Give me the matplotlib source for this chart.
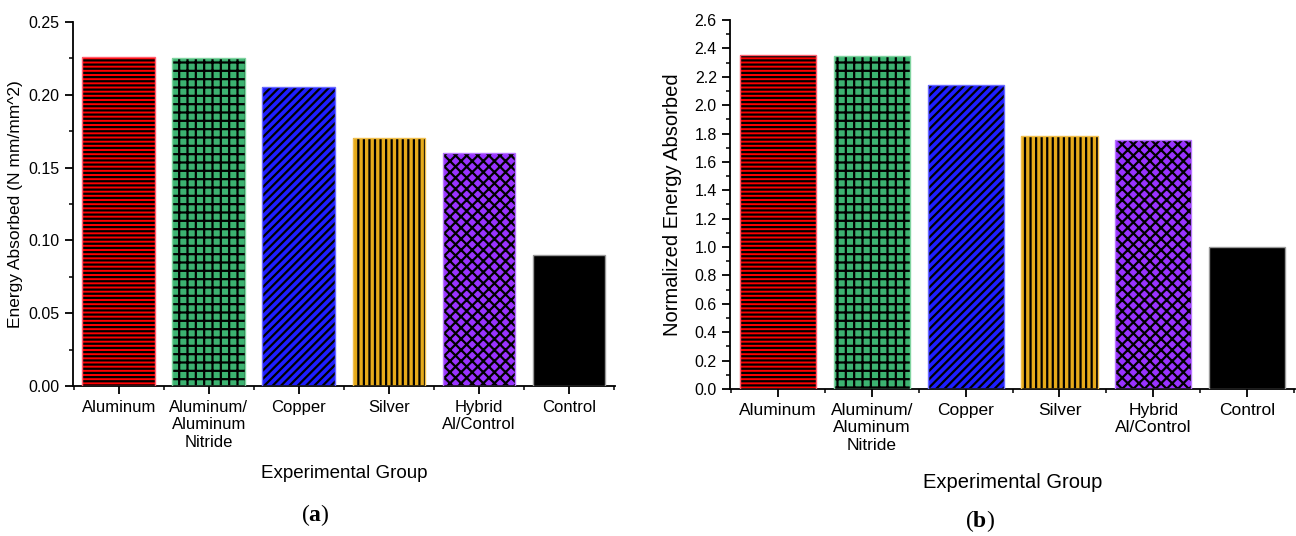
import numpy as np
import matplotlib
matplotlib.use('Agg')
import matplotlib.pyplot as plt
from matplotlib.ticker import MultipleLocator, FixedLocator

plt.rcParams['font.family'] = ['Liberation Sans', 'DejaVu Sans']
plt.rcParams['hatch.linewidth'] = 1.6
plt.rcParams['mathtext.fontset'] = 'custom'
plt.rcParams['mathtext.bf'] = 'Liberation Serif:bold'
plt.rcParams['mathtext.rm'] = 'Liberation Serif'

# groups and measured values
groups = ['Aluminum', 'Aluminum/\nAluminum\nNitride', 'Copper', 'Silver',
          'Hybrid\nAl/Control', 'Control']
energy = [0.226, 0.225, 0.205, 0.170, 0.160, 0.090]
normalized = [2.35, 2.345, 2.14, 1.785, 1.755, 1.0]

face_colors = ['#FF0000', '#3CB371', '#1E1EFF', '#E6AA1A', '#9933FF', '#000000']
edge_colors = ['#FF6070', '#7FD39F', '#6A6AFF', '#F0C050', '#B877FF', '#999999']
hatches = ['----', '++', '////', '|||', 'xxx', '']

fig = plt.figure(figsize=(12.96, 5.36), dpi=100)
ax_a = fig.add_axes([0.0563, 0.280, 0.4182, 0.679])
ax_b = fig.add_axes([0.5633, 0.2743, 0.4360, 0.6884])


def draw_panel(ax, values, ymax, ymajor, yminor, ylabel, ylabel_size,
               tick_size, cat_size, xlabel_size, xpad, ypad, fmt):
    x = np.arange(len(groups))
    # filled bars with black hatching, then a light outline on top
    ax.bar(x, values, width=0.81, color=face_colors, edgecolor='black',
           hatch=hatches, linewidth=0, zorder=2)
    ax.bar(x, values, width=0.81, fill=False, edgecolor=edge_colors,
           linewidth=1.0, zorder=3)
    ax.set_xlim(-0.51, len(groups) - 0.49)
    ax.set_ylim(0, ymax)
    ax.spines['top'].set_visible(False)
    ax.spines['right'].set_visible(False)
    for s in ('left', 'bottom'):
        ax.spines[s].set_linewidth(1.3)
    ax.set_xticks(x)
    ax.set_xticklabels(groups, fontsize=cat_size)
    ax.xaxis.set_minor_locator(FixedLocator(np.arange(-0.5, len(groups), 1.0)))
    ax.yaxis.set_major_locator(MultipleLocator(ymajor))
    ax.yaxis.set_minor_locator(MultipleLocator(yminor))
    ax.yaxis.set_major_formatter(fmt)
    ax.tick_params(axis='both', which='major', direction='out', length=6,
                   width=1.3)
    ax.tick_params(axis='y', which='major', labelsize=tick_size)
    ax.tick_params(axis='both', which='minor', direction='out', length=3,
                   width=1.1)
    ax.tick_params(axis='x', which='major', pad=4)
    ax.set_xlabel('Experimental Group', fontsize=xlabel_size, labelpad=xpad)
    ax.set_ylabel(ylabel, fontsize=ylabel_size, labelpad=ypad)


draw_panel(ax_a, energy, 0.25, 0.05, 0.025, 'Energy Absorbed (N mm/mm^2)',
           12.5, 11.5, 12, 13.5, 11, 4, '{x:.2f}')
draw_panel(ax_b, normalized, 2.6, 0.2, 0.1, 'Normalized Energy Absorbed',
           14.5, 11.5, 12.5, 14.5, 15, 9, '{x:.1f}')

fig.text(0.243, 0.039, r'($\mathbf{a}$)', family='Liberation Serif', fontsize=17,
         ha='center', va='center')
fig.text(0.756, 0.028, r'($\mathbf{b}$)', family='Liberation Serif', fontsize=17,
         ha='center', va='center')

fig.savefig('out.png', dpi=100)
